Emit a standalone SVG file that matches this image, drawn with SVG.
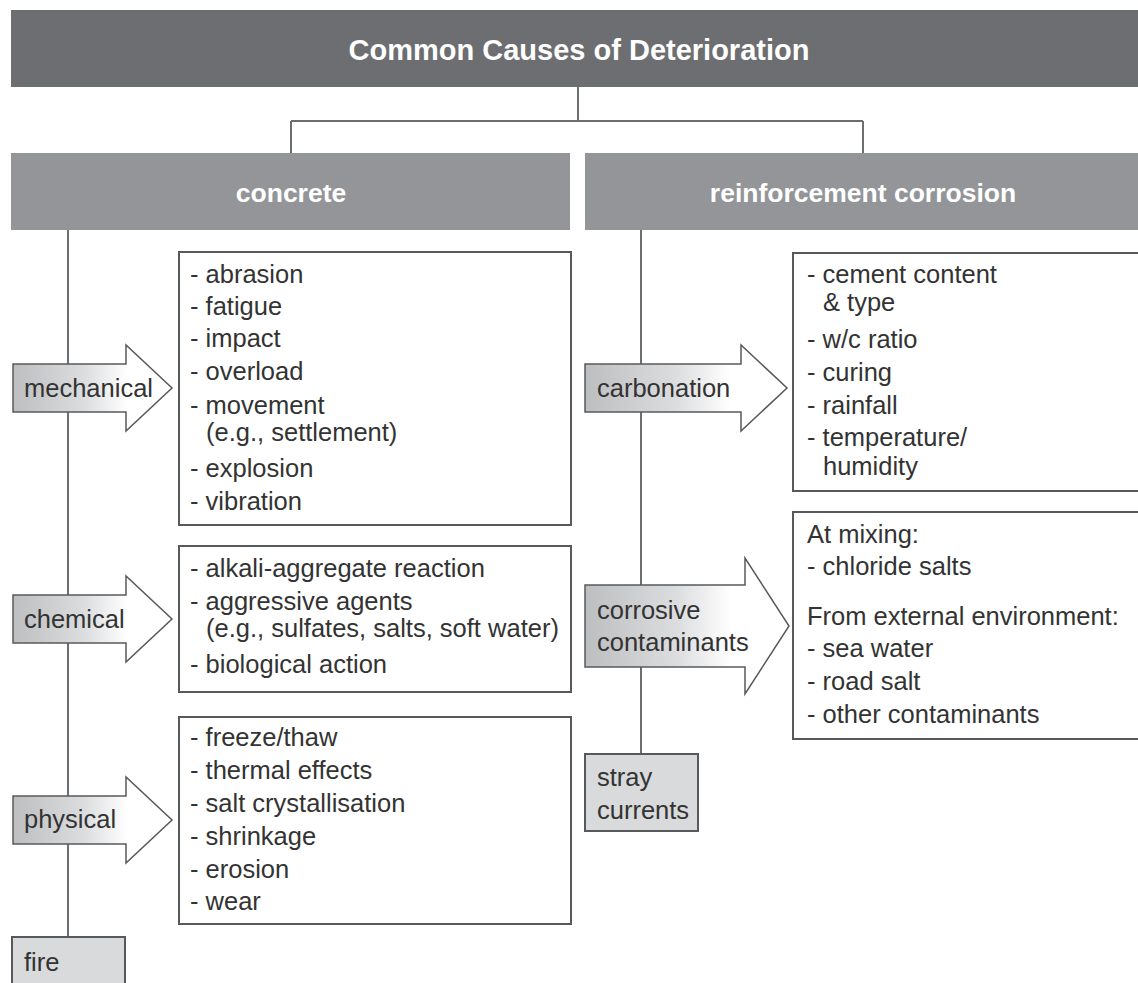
<svg xmlns="http://www.w3.org/2000/svg" width="1138" height="983" viewBox="0 0 1138 983">
<defs>
<linearGradient id="ag" x1="0" y1="0" x2="1" y2="0">
<stop offset="0" stop-color="#bdbec0"/>
<stop offset="0.45" stop-color="#dcdddf"/>
<stop offset="0.72" stop-color="#ffffff"/>
<stop offset="1" stop-color="#ffffff"/>
</linearGradient>
<style>
.hd{fill:#6d6e71}
.sh{fill:#939598}
.ht{font-family:"Liberation Sans",Arial,sans-serif;font-weight:bold;fill:#ffffff;text-anchor:middle}
.t{font-family:"Liberation Sans",Arial,sans-serif;font-size:25.5px;fill:#333333}
.box{fill:#ffffff;stroke:#58595b;stroke-width:2}
.arr{fill:url(#ag);stroke:#58595b;stroke-width:1.5}
.gb{fill:#d9dadb;stroke:#58595b;stroke-width:2}
.ln{fill:none;stroke:#6d6e71;stroke-width:2}
</style>
</defs>
<rect width="1138" height="983" fill="#ffffff"/>
<g id="connectors">
<path class="ln" d="M578,87 V121 M291,121 H863 M291,121 V153 M863,121 V153"/>
<path class="ln" d="M68,230 V937"/>
<path class="ln" stroke="#3a3a3a" d="M641,230 V754"/>
</g>
<g id="header">
<rect class="hd" x="11" y="10" width="1130" height="77"/>
<text class="ht" x="579" y="60" font-size="29">Common Causes of Deterioration</text>
</g>
<g id="concrete">
<rect class="sh" x="11" y="153" width="559" height="77"/>
<text class="ht" x="291" y="202" font-size="26.5">concrete</text>
</g>
<g id="reinforcement">
<rect class="sh" x="585" y="153" width="556" height="77"/>
<text class="ht" x="863" y="202" font-size="26.5">reinforcement corrosion</text>
</g>
<g id="mechanical">
<path class="arr" d="M13,364 H126 V345 L172,388 L126,431 V412 H13 Z"/>
<text class="t" x="24" y="397">mechanical</text>
</g>
<g id="mechanical-list">
<rect class="box" x="179" y="252" width="392" height="273"/>
<text class="t" x="190" y="283">- abrasion</text>
<text class="t" x="190" y="315">- fatigue</text>
<text class="t" x="190" y="347">- impact</text>
<text class="t" x="190" y="380">- overload</text>
<text class="t" x="190" y="414">- movement</text>
<text class="t" x="206" y="441">(e.g., settlement)</text>
<text class="t" x="190" y="477">- explosion</text>
<text class="t" x="190" y="510">- vibration</text>
</g>
<g id="chemical">
<path class="arr" d="M13,595 H126 V576 L172,619 L126,662 V643 H13 Z"/>
<text class="t" x="24" y="628">chemical</text>
</g>
<g id="chemical-list">
<rect class="box" x="179" y="546" width="392" height="146"/>
<text class="t" x="190" y="577">- alkali-aggregate reaction</text>
<text class="t" x="190" y="610">- aggressive agents</text>
<text class="t" x="206" y="637">(e.g., sulfates, salts, soft water)</text>
<text class="t" x="190" y="673">- biological action</text>
</g>
<g id="physical">
<path class="arr" d="M13,796 H126 V777 L172,820 L126,863 V844 H13 Z"/>
<text class="t" x="24" y="828">physical</text>
</g>
<g id="physical-list">
<rect class="box" x="179" y="717" width="392" height="207"/>
<text class="t" x="190" y="746">- freeze/thaw</text>
<text class="t" x="190" y="779">- thermal effects</text>
<text class="t" x="190" y="812">- salt crystallisation</text>
<text class="t" x="190" y="845">- shrinkage</text>
<text class="t" x="190" y="878">- erosion</text>
<text class="t" x="190" y="910">- wear</text>
</g>
<g id="fire">
<rect class="gb" x="12" y="937" width="113" height="60"/>
<text class="t" x="24" y="971">fire</text>
</g>
<g id="carbonation">
<path class="arr" d="M585,364 H741 V345 L787,388 L741,431 V412 H585 Z"/>
<text class="t" x="597" y="397">carbonation</text>
</g>
<g id="carbonation-list">
<rect class="box" x="793" y="253" width="360" height="238"/>
<text class="t" x="807" y="283">- cement content</text>
<text class="t" x="823" y="311">&amp; type</text>
<text class="t" x="807" y="348">- w/c ratio</text>
<text class="t" x="807" y="381">- curing</text>
<text class="t" x="807" y="414">- rainfall</text>
<text class="t" x="807" y="446">- temperature/</text>
<text class="t" x="823" y="475">humidity</text>
</g>
<g id="corrosive">
<path class="arr" d="M585,585 H745 V558 L789,626 L745,694 V667 H585 Z"/>
<text class="t" x="597" y="619">corrosive</text>
<text class="t" x="597" y="651">contaminants</text>
</g>
<g id="corrosive-list">
<rect class="box" x="793" y="512" width="360" height="227"/>
<text class="t" x="807" y="543">At mixing:</text>
<text class="t" x="807" y="575">- chloride salts</text>
<text class="t" x="807" y="625">From external environment:</text>
<text class="t" x="807" y="657">- sea water</text>
<text class="t" x="807" y="690">- road salt</text>
<text class="t" x="807" y="723">- other contaminants</text>
</g>
<g id="stray">
<rect class="gb" x="585" y="754" width="113" height="77"/>
<text class="t" x="597" y="786">stray</text>
<text class="t" x="597" y="819">currents</text>
</g>
</svg>
